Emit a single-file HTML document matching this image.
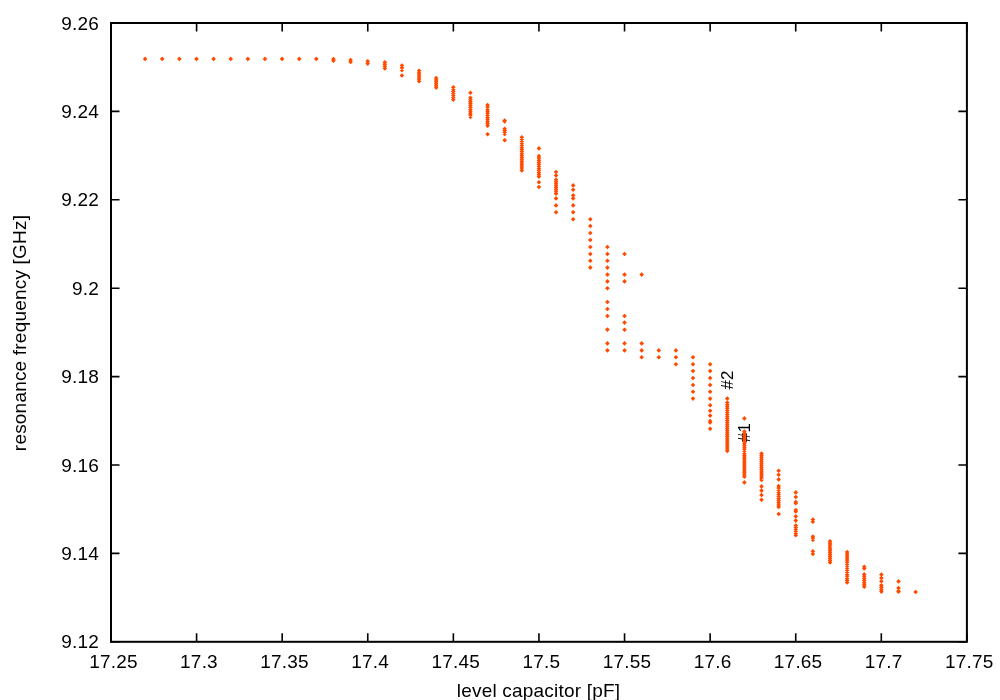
<!DOCTYPE html>
<html><head><meta charset="utf-8"><style>html,body{margin:0;padding:0;background:#fff;}svg{display:block;will-change:transform}</style></head>
<body><svg width="1000" height="700" viewBox="0 0 1000 700">
<rect x="0" y="0" width="1000" height="700" fill="#fff"/>
<path d="M111.00 23.0V31.5M111.00 641.8V633.3M196.59 23.0V31.5M196.59 641.8V633.3M282.18 23.0V31.5M282.18 641.8V633.3M367.77 23.0V31.5M367.77 641.8V633.3M453.36 23.0V31.5M453.36 641.8V633.3M538.95 23.0V31.5M538.95 641.8V633.3M624.54 23.0V31.5M624.54 641.8V633.3M710.13 23.0V31.5M710.13 641.8V633.3M795.72 23.0V31.5M795.72 641.8V633.3M881.31 23.0V31.5M881.31 641.8V633.3M966.90 23.0V31.5M966.90 641.8V633.3M111.0 23.00H119.5M966.9 23.00H958.4M111.0 111.40H119.5M966.9 111.40H958.4M111.0 199.80H119.5M966.9 199.80H958.4M111.0 288.20H119.5M966.9 288.20H958.4M111.0 376.60H119.5M966.9 376.60H958.4M111.0 465.00H119.5M966.9 465.00H958.4M111.0 553.40H119.5M966.9 553.40H958.4M111.0 641.80H119.5M966.9 641.80H958.4" stroke="#000" stroke-width="1.6" fill="none"/>
<rect x="111.0" y="23.0" width="855.9" height="618.8" fill="none" stroke="#000" stroke-width="2"/>
<g font-family="&quot;Liberation Sans&quot;, sans-serif" font-size="19" letter-spacing="0.2" fill="#000"><text x="113.40" y="668" text-anchor="middle">17.25</text><text x="198.99" y="668" text-anchor="middle">17.3</text><text x="284.58" y="668" text-anchor="middle">17.35</text><text x="370.17" y="668" text-anchor="middle">17.4</text><text x="455.76" y="668" text-anchor="middle">17.45</text><text x="541.35" y="668" text-anchor="middle">17.5</text><text x="626.94" y="668" text-anchor="middle">17.55</text><text x="712.53" y="668" text-anchor="middle">17.6</text><text x="798.12" y="668" text-anchor="middle">17.65</text><text x="883.71" y="668" text-anchor="middle">17.7</text><text x="969.30" y="668" text-anchor="middle">17.75</text><text x="99" y="29.60" text-anchor="end">9.26</text><text x="99" y="118.00" text-anchor="end">9.24</text><text x="99" y="206.40" text-anchor="end">9.22</text><text x="99" y="294.80" text-anchor="end">9.2</text><text x="99" y="383.20" text-anchor="end">9.18</text><text x="99" y="471.60" text-anchor="end">9.16</text><text x="99" y="560.00" text-anchor="end">9.14</text><text x="99" y="648.40" text-anchor="end">9.12</text><text x="538.5" y="696.5" text-anchor="middle">level capacitor [pF]</text><text transform="translate(25.7 333) rotate(-90)" x="0" y="0" text-anchor="middle">resonance frequency [GHz]</text><text transform="translate(733.2 389.6) rotate(-90)" x="0" y="0" font-size="17">#2</text><text transform="translate(750 442.2) rotate(-90)" x="0" y="0" font-size="17">#1</text></g>
<path d="M142.80 58.90L145.10 56.60L147.40 58.90L145.10 61.20ZM159.92 58.90L162.22 56.60L164.52 58.90L162.22 61.20ZM177.04 58.90L179.34 56.60L181.64 58.90L179.34 61.20ZM194.17 58.90L196.47 56.60L198.77 58.90L196.47 61.20ZM211.29 58.90L213.59 56.60L215.89 58.90L213.59 61.20ZM228.41 58.90L230.71 56.60L233.01 58.90L230.71 61.20ZM245.53 58.90L247.83 56.60L250.13 58.90L247.83 61.20ZM262.66 58.90L264.96 56.60L267.26 58.90L264.96 61.20ZM279.78 58.90L282.08 56.60L284.38 58.90L282.08 61.20ZM296.90 58.90L299.20 56.60L301.50 58.90L299.20 61.20ZM314.03 58.90L316.33 56.60L318.63 58.90L316.33 61.20ZM331.15 59.00L333.45 56.70L335.75 59.00L333.45 61.30ZM331.15 60.80L333.45 58.50L335.75 60.80L333.45 63.10ZM348.27 60.00L350.57 57.70L352.87 60.00L350.57 62.30ZM348.27 62.00L350.57 59.70L352.87 62.00L350.57 64.30ZM365.39 61.20L367.69 58.90L369.99 61.20L367.69 63.50ZM365.39 63.60L367.69 61.30L369.99 63.60L367.69 65.90ZM382.52 62.20L384.82 59.90L387.12 62.20L384.82 64.50ZM382.52 64.27L384.82 61.97L387.12 64.27L384.82 66.57ZM382.52 66.33L384.82 64.03L387.12 66.33L384.82 68.63ZM382.52 68.40L384.82 66.10L387.12 68.40L384.82 70.70ZM399.64 65.50L401.94 63.20L404.24 65.50L401.94 67.80ZM399.64 67.85L401.94 65.55L404.24 67.85L401.94 70.15ZM399.64 70.20L401.94 67.90L404.24 70.20L401.94 72.50ZM399.64 75.50L401.94 73.20L404.24 75.50L401.94 77.80ZM416.76 70.80L419.06 68.50L421.36 70.80L419.06 73.10ZM416.76 72.88L419.06 70.58L421.36 72.88L419.06 75.18ZM416.76 74.96L419.06 72.66L421.36 74.96L419.06 77.26ZM416.76 77.04L419.06 74.74L421.36 77.04L419.06 79.34ZM416.76 79.12L419.06 76.82L421.36 79.12L419.06 81.42ZM416.76 81.20L419.06 78.90L421.36 81.20L419.06 83.50ZM433.89 78.00L436.19 75.70L438.49 78.00L436.19 80.30ZM433.89 79.92L436.19 77.62L438.49 79.92L436.19 82.22ZM433.89 81.84L436.19 79.54L438.49 81.84L436.19 84.14ZM433.89 83.76L436.19 81.46L438.49 83.76L436.19 86.06ZM433.89 85.68L436.19 83.38L438.49 85.68L436.19 87.98ZM433.89 87.60L436.19 85.30L438.49 87.60L436.19 89.90ZM451.01 87.20L453.31 84.90L455.61 87.20L453.31 89.50ZM451.01 89.27L453.31 86.97L455.61 89.27L453.31 91.57ZM451.01 91.33L453.31 89.03L455.61 91.33L453.31 93.63ZM451.01 93.40L453.31 91.10L455.61 93.40L453.31 95.70ZM451.01 95.47L453.31 93.17L455.61 95.47L453.31 97.77ZM451.01 97.53L453.31 95.23L455.61 97.53L453.31 99.83ZM451.01 99.60L453.31 97.30L455.61 99.60L453.31 101.90ZM468.13 92.80L470.43 90.50L472.73 92.80L470.43 95.10ZM468.13 97.80L470.43 95.50L472.73 97.80L470.43 100.10ZM468.13 99.72L470.43 97.42L472.73 99.72L470.43 102.02ZM468.13 101.64L470.43 99.34L472.73 101.64L470.43 103.94ZM468.13 103.56L470.43 101.26L472.73 103.56L470.43 105.86ZM468.13 105.48L470.43 103.18L472.73 105.48L470.43 107.78ZM468.13 107.40L470.43 105.10L472.73 107.40L470.43 109.70ZM468.13 109.32L470.43 107.02L472.73 109.32L470.43 111.62ZM468.13 111.24L470.43 108.94L472.73 111.24L470.43 113.54ZM468.13 113.16L470.43 110.86L472.73 113.16L470.43 115.46ZM468.13 115.08L470.43 112.78L472.73 115.08L470.43 117.38ZM468.13 117.00L470.43 114.70L472.73 117.00L470.43 119.30ZM485.26 105.00L487.56 102.70L489.86 105.00L487.56 107.30ZM485.26 107.08L487.56 104.78L489.86 107.08L487.56 109.38ZM485.26 109.16L487.56 106.86L489.86 109.16L487.56 111.46ZM485.26 111.24L487.56 108.94L489.86 111.24L487.56 113.54ZM485.26 113.32L487.56 111.02L489.86 113.32L487.56 115.62ZM485.26 115.40L487.56 113.10L489.86 115.40L487.56 117.70ZM485.26 117.48L487.56 115.18L489.86 117.48L487.56 119.78ZM485.26 119.56L487.56 117.26L489.86 119.56L487.56 121.86ZM485.26 121.64L487.56 119.34L489.86 121.64L487.56 123.94ZM485.26 123.72L487.56 121.42L489.86 123.72L487.56 126.02ZM485.26 125.80L487.56 123.50L489.86 125.80L487.56 128.10ZM485.26 134.20L487.56 131.90L489.86 134.20L487.56 136.50ZM502.38 120.50L504.68 118.20L506.98 120.50L504.68 122.80ZM502.38 121.50L504.68 119.20L506.98 121.50L504.68 123.80ZM502.38 128.80L504.68 126.50L506.98 128.80L504.68 131.10ZM502.38 130.53L504.68 128.23L506.98 130.53L504.68 132.83ZM502.38 132.27L504.68 129.97L506.98 132.27L504.68 134.57ZM502.38 134.00L504.68 131.70L506.98 134.00L504.68 136.30ZM502.38 140.20L504.68 137.90L506.98 140.20L504.68 142.50ZM519.50 137.20L521.80 134.90L524.10 137.20L521.80 139.50ZM519.50 139.25L521.80 136.95L524.10 139.25L521.80 141.55ZM519.50 141.31L521.80 139.01L524.10 141.31L521.80 143.61ZM519.50 143.36L521.80 141.06L524.10 143.36L521.80 145.66ZM519.50 145.41L521.80 143.11L524.10 145.41L521.80 147.71ZM519.50 147.47L521.80 145.17L524.10 147.47L521.80 149.77ZM519.50 149.52L521.80 147.22L524.10 149.52L521.80 151.82ZM519.50 151.57L521.80 149.27L524.10 151.57L521.80 153.87ZM519.50 153.63L521.80 151.33L524.10 153.63L521.80 155.93ZM519.50 155.68L521.80 153.38L524.10 155.68L521.80 157.98ZM519.50 157.73L521.80 155.43L524.10 157.73L521.80 160.03ZM519.50 159.79L521.80 157.49L524.10 159.79L521.80 162.09ZM519.50 161.84L521.80 159.54L524.10 161.84L521.80 164.14ZM519.50 163.89L521.80 161.59L524.10 163.89L521.80 166.19ZM519.50 165.95L521.80 163.65L524.10 165.95L521.80 168.25ZM519.50 168.00L521.80 165.70L524.10 168.00L521.80 170.30ZM519.50 170.40L521.80 168.10L524.10 170.40L521.80 172.70ZM536.62 148.40L538.92 146.10L541.22 148.40L538.92 150.70ZM536.62 156.00L538.92 153.70L541.22 156.00L538.92 158.30ZM536.62 158.08L538.92 155.78L541.22 158.08L538.92 160.38ZM536.62 160.16L538.92 157.86L541.22 160.16L538.92 162.46ZM536.62 162.24L538.92 159.94L541.22 162.24L538.92 164.54ZM536.62 164.32L538.92 162.02L541.22 164.32L538.92 166.62ZM536.62 166.40L538.92 164.10L541.22 166.40L538.92 168.70ZM536.62 168.48L538.92 166.18L541.22 168.48L538.92 170.78ZM536.62 170.56L538.92 168.26L541.22 170.56L538.92 172.86ZM536.62 172.64L538.92 170.34L541.22 172.64L538.92 174.94ZM536.62 174.72L538.92 172.42L541.22 174.72L538.92 177.02ZM536.62 176.80L538.92 174.50L541.22 176.80L538.92 179.10ZM536.62 182.20L538.92 179.90L541.22 182.20L538.92 184.50ZM536.62 187.00L538.92 184.70L541.22 187.00L538.92 189.30ZM553.75 172.00L556.05 169.70L558.35 172.00L556.05 174.30ZM553.75 175.40L556.05 173.10L558.35 175.40L556.05 177.70ZM553.75 179.80L556.05 177.50L558.35 179.80L556.05 182.10ZM553.75 181.80L556.05 179.50L558.35 181.80L556.05 184.10ZM553.75 183.80L556.05 181.50L558.35 183.80L556.05 186.10ZM553.75 185.80L556.05 183.50L558.35 185.80L556.05 188.10ZM553.75 187.80L556.05 185.50L558.35 187.80L556.05 190.10ZM553.75 189.80L556.05 187.50L558.35 189.80L556.05 192.10ZM553.75 191.80L556.05 189.50L558.35 191.80L556.05 194.10ZM553.75 193.80L556.05 191.50L558.35 193.80L556.05 196.10ZM553.75 198.40L556.05 196.10L558.35 198.40L556.05 200.70ZM553.75 205.40L556.05 203.10L558.35 205.40L556.05 207.70ZM553.75 212.30L556.05 210.00L558.35 212.30L556.05 214.60ZM570.87 185.40L573.17 183.10L575.47 185.40L573.17 187.70ZM570.87 189.80L573.17 187.50L575.47 189.80L573.17 192.10ZM570.87 195.40L573.17 193.10L575.47 195.40L573.17 197.70ZM570.87 198.40L573.17 196.10L575.47 198.40L573.17 200.70ZM570.87 205.40L573.17 203.10L575.47 205.40L573.17 207.70ZM570.87 212.30L573.17 210.00L575.47 212.30L573.17 214.60ZM570.87 219.20L573.17 216.90L575.47 219.20L573.17 221.50ZM587.99 219.20L590.29 216.90L592.59 219.20L590.29 221.50ZM587.99 226.00L590.29 223.70L592.59 226.00L590.29 228.30ZM587.99 233.00L590.29 230.70L592.59 233.00L590.29 235.30ZM587.99 240.00L590.29 237.70L592.59 240.00L590.29 242.30ZM587.99 247.00L590.29 244.70L592.59 247.00L590.29 249.30ZM587.99 254.00L590.29 251.70L592.59 254.00L590.29 256.30ZM587.99 260.80L590.29 258.50L592.59 260.80L590.29 263.10ZM587.99 267.60L590.29 265.30L592.59 267.60L590.29 269.90ZM605.12 247.00L607.42 244.70L609.72 247.00L607.42 249.30ZM605.12 254.00L607.42 251.70L609.72 254.00L607.42 256.30ZM605.12 260.80L607.42 258.50L609.72 260.80L607.42 263.10ZM605.12 267.60L607.42 265.30L609.72 267.60L607.42 269.90ZM605.12 274.60L607.42 272.30L609.72 274.60L607.42 276.90ZM605.12 281.40L607.42 279.10L609.72 281.40L607.42 283.70ZM605.12 288.20L607.42 285.90L609.72 288.20L607.42 290.50ZM605.12 302.00L607.42 299.70L609.72 302.00L607.42 304.30ZM605.12 309.00L607.42 306.70L609.72 309.00L607.42 311.30ZM605.12 316.00L607.42 313.70L609.72 316.00L607.42 318.30ZM605.12 329.60L607.42 327.30L609.72 329.60L607.42 331.90ZM605.12 343.40L607.42 341.10L609.72 343.40L607.42 345.70ZM605.12 350.40L607.42 348.10L609.72 350.40L607.42 352.70ZM622.24 254.00L624.54 251.70L626.84 254.00L624.54 256.30ZM622.24 274.60L624.54 272.30L626.84 274.60L624.54 276.90ZM622.24 281.40L624.54 279.10L626.84 281.40L624.54 283.70ZM622.24 316.00L624.54 313.70L626.84 316.00L624.54 318.30ZM622.24 322.60L624.54 320.30L626.84 322.60L624.54 324.90ZM622.24 329.80L624.54 327.50L626.84 329.80L624.54 332.10ZM622.24 343.40L624.54 341.10L626.84 343.40L624.54 345.70ZM622.24 350.40L624.54 348.10L626.84 350.40L624.54 352.70ZM639.36 274.60L641.66 272.30L643.96 274.60L641.66 276.90ZM639.36 343.40L641.66 341.10L643.96 343.40L641.66 345.70ZM639.36 350.40L641.66 348.10L643.96 350.40L641.66 352.70ZM639.36 357.20L641.66 354.90L643.96 357.20L641.66 359.50ZM656.49 350.40L658.79 348.10L661.09 350.40L658.79 352.70ZM656.49 357.20L658.79 354.90L661.09 357.20L658.79 359.50ZM673.61 350.40L675.91 348.10L678.21 350.40L675.91 352.70ZM673.61 357.20L675.91 354.90L678.21 357.20L675.91 359.50ZM673.61 364.20L675.91 361.90L678.21 364.20L675.91 366.50ZM690.73 357.20L693.03 354.90L695.33 357.20L693.03 359.50ZM690.73 364.20L693.03 361.90L695.33 364.20L693.03 366.50ZM690.73 371.00L693.03 368.70L695.33 371.00L693.03 373.30ZM690.73 378.00L693.03 375.70L695.33 378.00L693.03 380.30ZM690.73 385.00L693.03 382.70L695.33 385.00L693.03 387.30ZM690.73 391.80L693.03 389.50L695.33 391.80L693.03 394.10ZM690.73 398.60L693.03 396.30L695.33 398.60L693.03 400.90ZM707.86 364.20L710.16 361.90L712.46 364.20L710.16 366.50ZM707.86 371.00L710.16 368.70L712.46 371.00L710.16 373.30ZM707.86 378.00L710.16 375.70L712.46 378.00L710.16 380.30ZM707.86 385.00L710.16 382.70L712.46 385.00L710.16 387.30ZM707.86 391.80L710.16 389.50L712.46 391.80L710.16 394.10ZM707.86 398.60L710.16 396.30L712.46 398.60L710.16 400.90ZM707.86 405.20L710.16 402.90L712.46 405.20L710.16 407.50ZM707.86 410.80L710.16 408.50L712.46 410.80L710.16 413.10ZM707.86 415.60L710.16 413.30L712.46 415.60L710.16 417.90ZM707.86 421.00L710.16 418.70L712.46 421.00L710.16 423.30ZM707.86 422.50L710.16 420.20L712.46 422.50L710.16 424.80ZM707.86 428.80L710.16 426.50L712.46 428.80L710.16 431.10ZM724.98 398.60L727.28 396.30L729.58 398.60L727.28 400.90ZM724.98 402.50L727.28 400.20L729.58 402.50L727.28 404.80ZM724.98 404.52L727.28 402.22L729.58 404.52L727.28 406.82ZM724.98 406.54L727.28 404.24L729.58 406.54L727.28 408.84ZM724.98 408.56L727.28 406.26L729.58 408.56L727.28 410.86ZM724.98 410.58L727.28 408.28L729.58 410.58L727.28 412.88ZM724.98 412.60L727.28 410.30L729.58 412.60L727.28 414.90ZM724.98 414.62L727.28 412.32L729.58 414.62L727.28 416.93ZM724.98 416.65L727.28 414.35L729.58 416.65L727.28 418.95ZM724.98 418.67L727.28 416.37L729.58 418.67L727.28 420.97ZM724.98 420.69L727.28 418.39L729.58 420.69L727.28 422.99ZM724.98 422.71L727.28 420.41L729.58 422.71L727.28 425.01ZM724.98 424.73L727.28 422.43L729.58 424.73L727.28 427.03ZM724.98 426.75L727.28 424.45L729.58 426.75L727.28 429.05ZM724.98 428.77L727.28 426.47L729.58 428.77L727.28 431.07ZM724.98 430.79L727.28 428.49L729.58 430.79L727.28 433.09ZM724.98 432.81L727.28 430.51L729.58 432.81L727.28 435.11ZM724.98 434.83L727.28 432.53L729.58 434.83L727.28 437.13ZM724.98 436.85L727.28 434.55L729.58 436.85L727.28 439.15ZM724.98 438.88L727.28 436.57L729.58 438.88L727.28 441.18ZM724.98 440.90L727.28 438.60L729.58 440.90L727.28 443.20ZM724.98 442.92L727.28 440.62L729.58 442.92L727.28 445.22ZM724.98 444.94L727.28 442.64L729.58 444.94L727.28 447.24ZM724.98 446.96L727.28 444.66L729.58 446.96L727.28 449.26ZM724.98 448.98L727.28 446.68L729.58 448.98L727.28 451.28ZM724.98 451.00L727.28 448.70L729.58 451.00L727.28 453.30ZM742.10 418.40L744.40 416.10L746.70 418.40L744.40 420.70ZM742.10 431.60L744.40 429.30L746.70 431.60L744.40 433.90ZM742.10 433.57L744.40 431.27L746.70 433.57L744.40 435.87ZM742.10 435.53L744.40 433.23L746.70 435.53L744.40 437.83ZM742.10 437.50L744.40 435.20L746.70 437.50L744.40 439.80ZM742.10 439.46L744.40 437.16L746.70 439.46L744.40 441.76ZM742.10 441.43L744.40 439.13L746.70 441.43L744.40 443.73ZM742.10 443.39L744.40 441.09L746.70 443.39L744.40 445.69ZM742.10 445.36L744.40 443.06L746.70 445.36L744.40 447.66ZM742.10 447.32L744.40 445.02L746.70 447.32L744.40 449.62ZM742.10 449.29L744.40 446.99L746.70 449.29L744.40 451.59ZM742.10 451.25L744.40 448.95L746.70 451.25L744.40 453.55ZM742.10 453.22L744.40 450.92L746.70 453.22L744.40 455.52ZM742.10 455.18L744.40 452.88L746.70 455.18L744.40 457.48ZM742.10 457.15L744.40 454.85L746.70 457.15L744.40 459.45ZM742.10 459.11L744.40 456.81L746.70 459.11L744.40 461.41ZM742.10 461.08L744.40 458.78L746.70 461.08L744.40 463.38ZM742.10 463.04L744.40 460.74L746.70 463.04L744.40 465.34ZM742.10 465.01L744.40 462.71L746.70 465.01L744.40 467.31ZM742.10 466.97L744.40 464.67L746.70 466.97L744.40 469.27ZM742.10 468.94L744.40 466.64L746.70 468.94L744.40 471.24ZM742.10 470.90L744.40 468.60L746.70 470.90L744.40 473.20ZM742.10 472.87L744.40 470.57L746.70 472.87L744.40 475.17ZM742.10 474.83L744.40 472.53L746.70 474.83L744.40 477.13ZM742.10 476.80L744.40 474.50L746.70 476.80L744.40 479.10ZM742.10 482.40L744.40 480.10L746.70 482.40L744.40 484.70ZM759.22 453.60L761.52 451.30L763.82 453.60L761.52 455.90ZM759.22 455.63L761.52 453.33L763.82 455.63L761.52 457.93ZM759.22 457.66L761.52 455.36L763.82 457.66L761.52 459.96ZM759.22 459.69L761.52 457.39L763.82 459.69L761.52 461.99ZM759.22 461.72L761.52 459.42L763.82 461.72L761.52 464.02ZM759.22 463.75L761.52 461.45L763.82 463.75L761.52 466.05ZM759.22 465.78L761.52 463.48L763.82 465.78L761.52 468.08ZM759.22 467.82L761.52 465.52L763.82 467.82L761.52 470.12ZM759.22 469.85L761.52 467.55L763.82 469.85L761.52 472.15ZM759.22 471.88L761.52 469.58L763.82 471.88L761.52 474.18ZM759.22 473.91L761.52 471.61L763.82 473.91L761.52 476.21ZM759.22 475.94L761.52 473.64L763.82 475.94L761.52 478.24ZM759.22 477.97L761.52 475.67L763.82 477.97L761.52 480.27ZM759.22 480.00L761.52 477.70L763.82 480.00L761.52 482.30ZM759.22 486.40L761.52 484.10L763.82 486.40L761.52 488.70ZM759.22 490.60L761.52 488.30L763.82 490.60L761.52 492.90ZM759.22 495.00L761.52 492.70L763.82 495.00L761.52 497.30ZM759.22 499.80L761.52 497.50L763.82 499.80L761.52 502.10ZM776.35 470.80L778.65 468.50L780.95 470.80L778.65 473.10ZM776.35 474.80L778.65 472.50L780.95 474.80L778.65 477.10ZM776.35 479.40L778.65 477.10L780.95 479.40L778.65 481.70ZM776.35 486.00L778.65 483.70L780.95 486.00L778.65 488.30ZM776.35 488.10L778.65 485.80L780.95 488.10L778.65 490.40ZM776.35 490.20L778.65 487.90L780.95 490.20L778.65 492.50ZM776.35 492.30L778.65 490.00L780.95 492.30L778.65 494.60ZM776.35 494.40L778.65 492.10L780.95 494.40L778.65 496.70ZM776.35 496.50L778.65 494.20L780.95 496.50L778.65 498.80ZM776.35 498.60L778.65 496.30L780.95 498.60L778.65 500.90ZM776.35 500.70L778.65 498.40L780.95 500.70L778.65 503.00ZM776.35 502.80L778.65 500.50L780.95 502.80L778.65 505.10ZM776.35 504.90L778.65 502.60L780.95 504.90L778.65 507.20ZM776.35 507.00L778.65 504.70L780.95 507.00L778.65 509.30ZM776.35 514.00L778.65 511.70L780.95 514.00L778.65 516.30ZM793.47 492.40L795.77 490.10L798.07 492.40L795.77 494.70ZM793.47 497.00L795.77 494.70L798.07 497.00L795.77 499.30ZM793.47 502.00L795.77 499.70L798.07 502.00L795.77 504.30ZM793.47 503.20L795.77 500.90L798.07 503.20L795.77 505.50ZM793.47 510.00L795.77 507.70L798.07 510.00L795.77 512.30ZM793.47 511.50L795.77 509.20L798.07 511.50L795.77 513.80ZM793.47 516.40L795.77 514.10L798.07 516.40L795.77 518.70ZM793.47 520.60L795.77 518.30L798.07 520.60L795.77 522.90ZM793.47 525.50L795.77 523.20L798.07 525.50L795.77 527.80ZM793.47 527.44L795.77 525.14L798.07 527.44L795.77 529.74ZM793.47 529.38L795.77 527.08L798.07 529.38L795.77 531.68ZM793.47 531.32L795.77 529.02L798.07 531.32L795.77 533.62ZM793.47 533.26L795.77 530.96L798.07 533.26L795.77 535.56ZM793.47 535.20L795.77 532.90L798.07 535.20L795.77 537.50ZM810.59 519.50L812.89 517.20L815.19 519.50L812.89 521.80ZM810.59 521.80L812.89 519.50L815.19 521.80L812.89 524.10ZM810.59 536.50L812.89 534.20L815.19 536.50L812.89 538.80ZM810.59 538.25L812.89 535.95L815.19 538.25L812.89 540.55ZM810.59 540.00L812.89 537.70L815.19 540.00L812.89 542.30ZM810.59 551.20L812.89 548.90L815.19 551.20L812.89 553.50ZM810.59 554.00L812.89 551.70L815.19 554.00L812.89 556.30ZM827.72 541.20L830.02 538.90L832.32 541.20L830.02 543.50ZM827.72 543.13L830.02 540.83L832.32 543.13L830.02 545.43ZM827.72 545.05L830.02 542.75L832.32 545.05L830.02 547.35ZM827.72 546.98L830.02 544.68L832.32 546.98L830.02 549.28ZM827.72 548.91L830.02 546.61L832.32 548.91L830.02 551.21ZM827.72 550.84L830.02 548.54L832.32 550.84L830.02 553.14ZM827.72 552.76L830.02 550.46L832.32 552.76L830.02 555.06ZM827.72 554.69L830.02 552.39L832.32 554.69L830.02 556.99ZM827.72 556.62L830.02 554.32L832.32 556.62L830.02 558.92ZM827.72 558.55L830.02 556.25L832.32 558.55L830.02 560.85ZM827.72 560.47L830.02 558.17L832.32 560.47L830.02 562.77ZM827.72 562.40L830.02 560.10L832.32 562.40L830.02 564.70ZM844.84 552.00L847.14 549.70L849.44 552.00L847.14 554.30ZM844.84 554.03L847.14 551.73L849.44 554.03L847.14 556.33ZM844.84 556.05L847.14 553.75L849.44 556.05L847.14 558.35ZM844.84 558.08L847.14 555.78L849.44 558.08L847.14 560.38ZM844.84 560.11L847.14 557.81L849.44 560.11L847.14 562.41ZM844.84 562.13L847.14 559.83L849.44 562.13L847.14 564.43ZM844.84 564.16L847.14 561.86L849.44 564.16L847.14 566.46ZM844.84 566.19L847.14 563.89L849.44 566.19L847.14 568.49ZM844.84 568.21L847.14 565.91L849.44 568.21L847.14 570.51ZM844.84 570.24L847.14 567.94L849.44 570.24L847.14 572.54ZM844.84 572.27L847.14 569.97L849.44 572.27L847.14 574.57ZM844.84 574.29L847.14 571.99L849.44 574.29L847.14 576.59ZM844.84 576.32L847.14 574.02L849.44 576.32L847.14 578.62ZM844.84 578.35L847.14 576.05L849.44 578.35L847.14 580.65ZM844.84 580.37L847.14 578.07L849.44 580.37L847.14 582.67ZM844.84 582.40L847.14 580.10L849.44 582.40L847.14 584.70ZM861.96 566.80L864.26 564.50L866.56 566.80L864.26 569.10ZM861.96 568.40L864.26 566.10L866.56 568.40L864.26 570.70ZM861.96 574.40L864.26 572.10L866.56 574.40L864.26 576.70ZM861.96 576.47L864.26 574.17L866.56 576.47L864.26 578.77ZM861.96 578.53L864.26 576.23L866.56 578.53L864.26 580.83ZM861.96 580.60L864.26 578.30L866.56 580.60L864.26 582.90ZM861.96 582.67L864.26 580.37L866.56 582.67L864.26 584.97ZM861.96 584.73L864.26 582.43L866.56 584.73L864.26 587.03ZM861.96 586.80L864.26 584.50L866.56 586.80L864.26 589.10ZM879.08 574.60L881.38 572.30L883.68 574.60L881.38 576.90ZM879.08 578.00L881.38 575.70L883.68 578.00L881.38 580.30ZM879.08 581.20L881.38 578.90L883.68 581.20L881.38 583.50ZM879.08 585.20L881.38 582.90L883.68 585.20L881.38 587.50ZM879.08 587.33L881.38 585.03L883.68 587.33L881.38 589.63ZM879.08 589.47L881.38 587.17L883.68 589.47L881.38 591.77ZM879.08 591.60L881.38 589.30L883.68 591.60L881.38 593.90ZM896.21 581.40L898.51 579.10L900.81 581.40L898.51 583.70ZM896.21 588.00L898.51 585.70L900.81 588.00L898.51 590.30ZM896.21 591.00L898.51 588.70L900.81 591.00L898.51 593.30ZM896.21 591.80L898.51 589.50L900.81 591.80L898.51 594.10ZM913.33 592.00L915.63 589.70L917.93 592.00L915.63 594.30Z" fill="#ff4a00"/>
</svg></body></html>
